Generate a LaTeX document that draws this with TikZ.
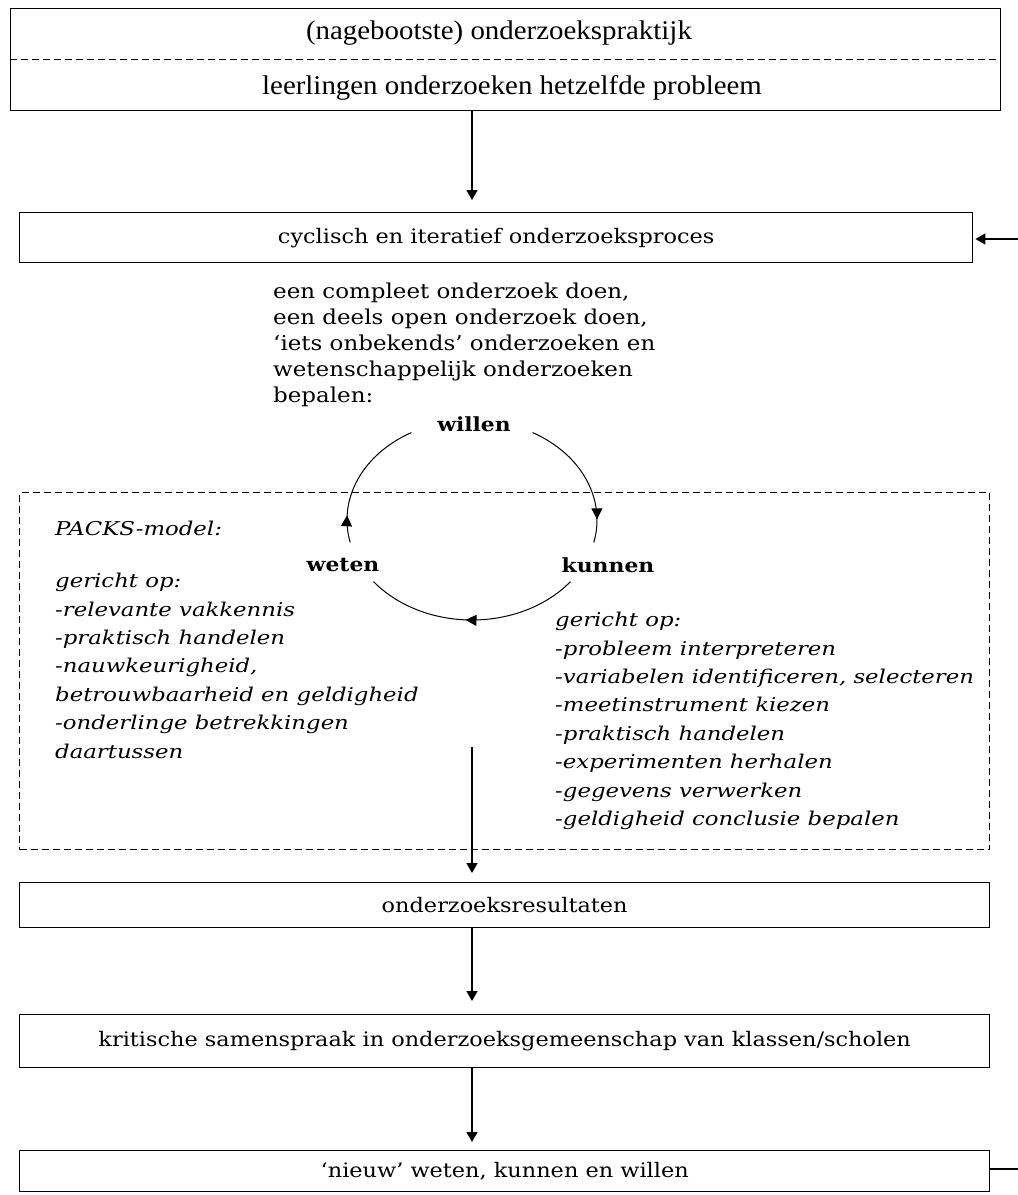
\documentclass[tikz,border=0pt]{standalone}
\usepackage{fontspec}
\setmainfont{DejaVu Serif}[FakeStretch=1.12]
\newfontfamily\listfont{DejaVu Serif}[FakeStretch=1.2]
\newfontfamily\timesf{Liberation Serif}[FakeStretch=1.07]
\usetikzlibrary{arrows.meta,decorations.markings}
\begin{document}
\begin{tikzpicture}[x=1pt,y=1pt,
  box/.style={draw, line width=1.4pt, inner sep=0pt, anchor=north west, font=\fontsize{20}{24}\selectfont},
  conn/.style={-{Triangle[length=10pt,width=11pt]}, line width=1.4pt},
  cyc/.style={line width=1pt},
  dashline/.style={line width=1.1pt, dash pattern=on 7pt off 4pt},
  tipmark/.style={postaction={decorate}, decoration={markings, mark=at position #1 with {\arrow{Triangle[length=11pt,width=11pt]}}}},
  lbl/.style={font=\bfseries\fontsize{19.5}{22}\selectfont, inner sep=0pt},
  plain/.style={align=left, inner sep=0pt, font=\fontsize{20.5}{26}\selectfont},
  ilist/.style={align=left, inner sep=0pt, font=\listfont\itshape\fontsize{19}{28.4}\selectfont}
]
\useasboundingbox[fill=white] (0,0) rectangle (1018,-1195);

% top box
\node[box, minimum width=990, minimum height=102] (top) at (10,-8) {};
\draw[dashline] (top.west) -- (top.east);
\node[inner sep=0pt, font=\timesf\fontsize{27}{30}\selectfont] (t1) at (499,-33) {(nagebootste) onderzoekspraktijk};
\node[inner sep=0pt, font=\timesf\fontsize{27}{30}\selectfont] (t2) at (512,-88) {leerlingen onderzoeken hetzelfde probleem};

% process box
\node[box, minimum width=953, minimum height=50] (proc) at (19,-212) {cyclisch en iteratief onderzoeksproces};

\coordinate (ax) at (472,0);
\draw[conn, shorten >=12pt] (top.south -| ax) -- (proc.north -| ax);

% feedback stubs
\coordinate (fbin) at (1018,-239);
\coordinate (fbout) at (1018,-1169);
\draw[conn, shorten >=2pt] (fbin) -- (fbin -| proc.east);

% intro text
\node[plain, anchor=north west] (intro) at (273,-283) {een compleet onderzoek doen,\\een deels open onderzoek doen,\\‘iets onbekends’ onderzoeken en\\wetenschappelijk onderzoeken\\bepalen:};

% PACKS dashed box
\node[draw, dashline, anchor=north west, minimum width=970, minimum height=357, inner sep=0pt] (packs) at (19,-492) {};

% cycle
\coordinate (cc) at (472,-520);
\node[lbl] (willen) at (474,-424) {willen};
\node[lbl] (weten) at (343,-565) {weten};
\node[lbl] (kunnen) at (608,-565) {kunnen};
\draw[cyc, tipmark=0.2] (cc) ++(193:125pt and 100pt) arc[start angle=193, end angle=119, x radius=125pt, y radius=100pt];
\draw[cyc, tipmark=0.83] (cc) ++(61:125pt and 100pt) arc[start angle=61, end angle=-13, x radius=125pt, y radius=100pt];
\draw[cyc, tipmark=0.53] (cc) ++(-38:125pt and 100pt) arc[start angle=-38, end angle=-142, x radius=125pt, y radius=100pt];

% lists
\node[ilist, anchor=west] (ptitle) at (55,-528) {PACKS-model:};
\node[ilist, anchor=north west] (llist) at (55,-573) {gericht op:\\-relevante vakkennis\\-praktisch handelen\\-nauwkeurigheid,\\betrouwbaarheid en geldigheid\\-onderlinge betrekkingen\\daartussen};
\node[ilist, anchor=north west] (rlist) at (555,-612) {gericht op:\\-probleem interpreteren\\-variabelen identificeren, selecteren\\-meetinstrument kiezen\\-praktisch handelen\\-experimenten herhalen\\-gegevens verwerken\\-geldigheid conclusie bepalen};

% lower boxes
\node[box, minimum width=970, minimum height=45] (res) at (19,-882) {onderzoeksresultaten};
\node[box, minimum width=970, minimum height=53] (krit) at (19,-1014) {kritische samenspraak in onderzoeksgemeenschap van klassen/scholen};
\node[box, minimum width=970, minimum height=41] (nieuw) at (19,-1150) {‘nieuw’ weten, kunnen en willen};

\coordinate (pstart) at (472,-747);
\draw[conn, shorten >=9pt] (pstart) -- (res.north -| ax);
\draw[conn, shorten >=13pt] (res.south -| ax) -- (krit.north -| ax);
\draw[conn, shorten >=8pt] (krit.south -| ax) -- (nieuw.north -| ax);

\draw[line width=1.2pt] (nieuw.east |- fbout) -- (fbout);
\end{tikzpicture}
\end{document}
